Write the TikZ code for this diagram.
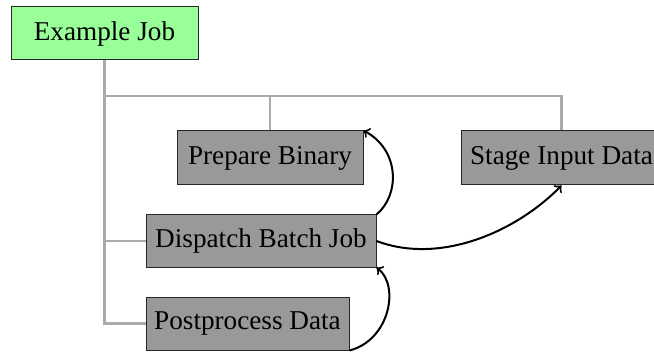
\documentclass[tikz,border=0pt]{standalone}
\usepackage{fontspec}
\setmainfont{Liberation Serif}
\usetikzlibrary{arrows}
\definecolor{jobgreen}{RGB}{153,255,153}
\definecolor{taskgray}{RGB}{153,153,153}
\definecolor{treegray}{RGB}{170,170,170}
\tikzset{
  box/.style={draw=black!85, line width=0.5pt, inner sep=0pt, minimum height=26.5pt,
    font=\fontsize{13.6}{16}\selectfont, text=black},
  jobbox/.style={box, fill=jobgreen},
  taskbox/.style={box, fill=taskgray},
  tree/.style={draw=treegray, line width=1.1pt},
  dep/.style={draw=black, line width=1pt, -to}
}
\begin{document}
\begin{tikzpicture}[x=0.5pt, y=-0.5pt]
  \useasboundingbox (0,0) rectangle (654,353);

  % job and its tasks
  \node[jobbox, minimum width=93.5pt] (job) at (104.5,33.5) {Example Job};
  \node[taskbox, minimum width=93pt, minimum height=27pt] (prep) at (270,158) {Prepare Binary};
  \node[taskbox, minimum width=100pt, minimum height=27pt, anchor=west] (stage) at (461,158) {Stage Input Data};
  \node[taskbox, minimum width=115pt, minimum height=26pt] (disp) at (261,241) {Dispatch Batch Job};
  \node[taskbox, minimum width=101.5pt] (post) at (247.5,323.5) {Postprocess Data};

  % tree connectors
  \coordinate (bus) at (105,96);
  \coordinate (busend) at (stage.north |- bus);
  \draw[tree] (job.south) |- (post.west);
  \draw[tree] (bus) -- (busend) -- (stage.north);
  \draw[tree] (prep.north |- bus) -- (prep.north);
  \draw[tree] (job.south |- disp.west) -- (disp.west);

  % dependencies
  \draw[dep] (disp.north east) .. controls (400,195) and (400,150) .. (prep.north east);
  \draw[dep] (disp.east) .. controls (440,265) and (516,232) .. (stage.south);
  \draw[dep] (post.south east) .. controls (390,340) and (400,285) .. (disp.south east);
\end{tikzpicture}
\end{document}
